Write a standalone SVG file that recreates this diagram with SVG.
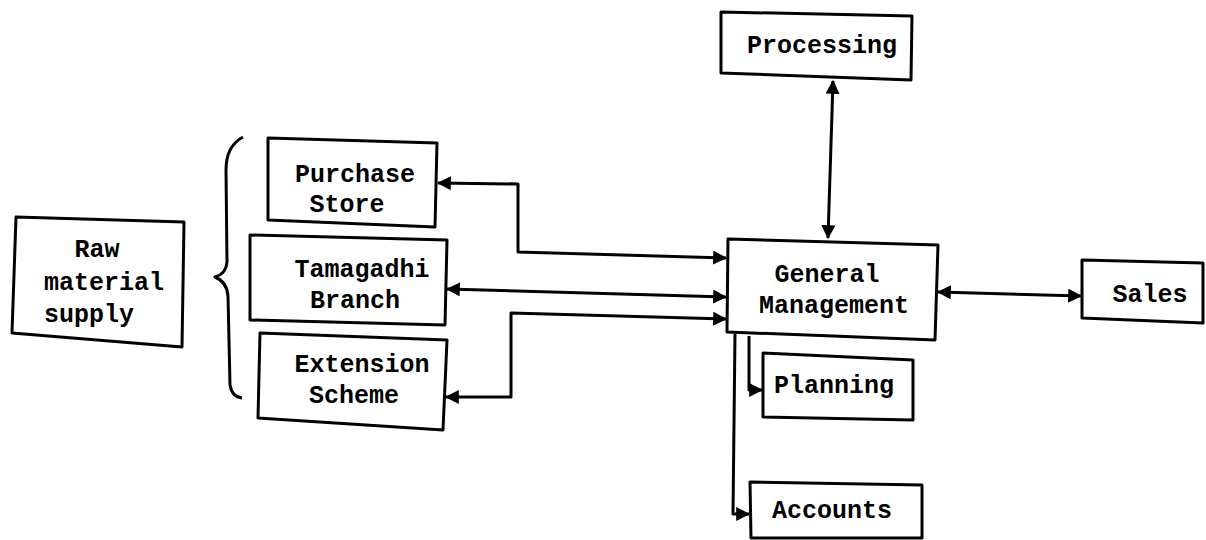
<svg xmlns="http://www.w3.org/2000/svg" width="1206" height="540" viewBox="0 0 1206 540">
<style>
.box{fill:#fff;stroke:#000;stroke-width:3;stroke-linejoin:round}
.t{font-family:"Liberation Mono","DejaVu Sans Mono",monospace;font-weight:bold;font-size:25px;fill:#000;text-anchor:middle}
.c{fill:none;stroke:#000;stroke-width:3;stroke-linejoin:round}
</style>
<defs>
<marker id="ah" viewBox="0 0 12 12" refX="11" refY="6" markerWidth="14" markerHeight="14" markerUnits="userSpaceOnUse" orient="auto-start-reverse">
<path d="M0,0 L12,6 L0,12 Z" fill="#000"/>
</marker>
</defs>
<rect width="1206" height="540" fill="#fff"/>
<g id="connectors">
<path class="c" d="M833,81 L828,238" marker-start="url(#ah)" marker-end="url(#ah)"/>
<path class="c" d="M938,292 L1081,296" marker-start="url(#ah)" marker-end="url(#ah)"/>
<path class="c" d="M438,183 L518,184 L518,252 L726,258" marker-start="url(#ah)" marker-end="url(#ah)"/>
<path class="c" d="M447,289 L726,297" marker-start="url(#ah)" marker-end="url(#ah)"/>
<path class="c" d="M446,397 L511,397 L511,313 L726,319" marker-start="url(#ah)" marker-end="url(#ah)"/>
<path class="c" d="M749,336 L749,390 L762,390" marker-end="url(#ah)"/>
<path class="c" d="M735,334 L733,514 L749,514" marker-end="url(#ah)"/>
<path class="c" d="M243,137 Q226,146 226,170 L227,262 Q226,274 215,277 Q227,282 228,296 L230,385 Q232,397 242,398"/>
</g>
<g id="processing">
<polygon class="box" points="721,12 912,16 911,80 721,73"/>
<text class="t" x="822" y="53">Processing</text>
</g>
<g id="general-management">
<polygon class="box" points="728,239 938,245 935,340 727,332"/>
<text class="t" x="827" y="282">General</text>
<text class="t" x="834" y="313">Management</text>
</g>
<g id="sales">
<polygon class="box" points="1082,260 1203,263 1203,323 1082,318"/>
<text class="t" x="1150" y="302">Sales</text>
</g>
<g id="planning">
<polygon class="box" points="763,353 913,360 913,420 763,417"/>
<text class="t" x="834" y="393">Planning</text>
</g>
<g id="accounts">
<polygon class="box" points="750,482 922,485 922,538 751,538"/>
<text class="t" x="832" y="518">Accounts</text>
</g>
<g id="purchase-store">
<polygon class="box" points="268,138 437,143 435,227 268,220"/>
<text class="t" x="355" y="182">Purchase</text>
<text class="t" x="347" y="212">Store</text>
</g>
<g id="tamagadhi-branch">
<polygon class="box" points="250,235 447,240 445,325 250,320"/>
<text class="t" x="362" y="277">Tamagadhi</text>
<text class="t" x="355" y="308">Branch</text>
</g>
<g id="extension-scheme">
<polygon class="box" points="260,333 447,340 443,430 258,418"/>
<text class="t" x="362" y="372">Extension</text>
<text class="t" x="354" y="403">Scheme</text>
</g>
<g id="raw-material-supply">
<polygon class="box" points="16,217 184,222 182,347 12,333"/>
<text class="t" x="97" y="257">Raw</text>
<text class="t" x="104" y="290">material</text>
<text class="t" x="89" y="322">supply</text>
</g>
</svg>
